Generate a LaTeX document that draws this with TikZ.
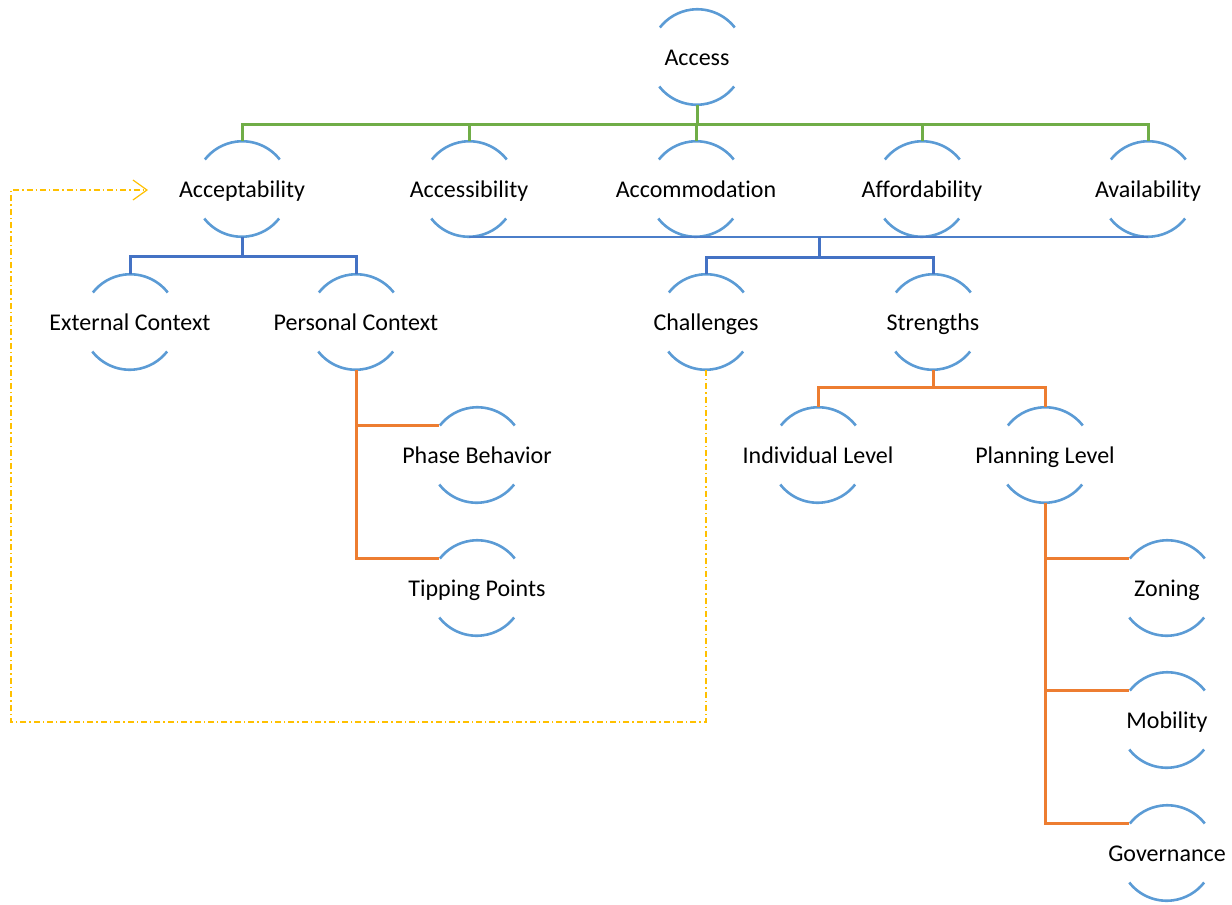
\documentclass[tikz,border=0pt]{standalone}
\usepackage{fontspec}
\setmainfont{Carlito}[Ligatures=NoCommon]
\usetikzlibrary{arrows.meta}

\definecolor{ringblue}{HTML}{5B9BD5}
\definecolor{barblue}{HTML}{4472C4}
\definecolor{bargreen}{HTML}{70AD47}
\definecolor{barorange}{HTML}{ED7D31}
\definecolor{loopyellow}{HTML}{FFC000}

\begin{document}
\begin{tikzpicture}[x=0.5pt, y=-0.5pt,
    topic/.style = {circle, minimum size=47.5pt, inner sep=0pt},
    every label/.style = {font=\fontsize{12}{14}\selectfont, inner sep=0pt,
      text height=10pt, text depth=2pt},
    halo/.style = {draw=ringblue, line width=1.3pt},
    greenbar/.style = {draw=bargreen, line width=1.5pt},
    bluebar/.style = {draw=barblue, line width=1.5pt},
    thinbar/.style = {draw=barblue!70!ringblue, line width=0.6pt},
    orangebar/.style = {draw=barorange, line width=1.5pt},
    loopback/.style = {draw=loopyellow, line width=0.6pt,
      dash pattern=on 3pt off 1.5pt on 0.7pt off 1.5pt,
      -{Straight Barb[length=7pt,width=10pt]}}]
  \useasboundingbox (0,0) rectangle (1232,905);

  % top level
  \node (access) [topic, label=center:Access] at (697,57) {};

  % the five A's
  \node (accept)   [topic, label=center:Acceptability] at (242,189) {};
  \node (accessib) [topic, label=center:Accessibility] at (469,189) {};
  \node (accom)    [topic, label=center:Accommodation] at (696,189) {};
  \node (afford)   [topic, label=center:Affordability] at (922,189) {};
  \node (avail)    [topic, label=center:Availability]  at (1148,189) {};

  % second level
  \node (ext)      [topic, label=center:External Context] at (130,322) {};
  \node (pers)     [topic, label=center:Personal Context] at (356,322) {};
  \node (chall)    [topic, label=center:Challenges]       at (706,322) {};
  \node (strength) [topic, label=center:Strengths]        at (933,322) {};

  % third level
  \node (phase)    [topic, label=center:Phase Behavior]   at (477,455) {};
  \node (tipping)  [topic, label=center:Tipping Points]   at (477,588) {};
  \node (indiv)    [topic, label=center:Individual Level] at (818,455) {};
  \node (planning) [topic, label=center:Planning Level]   at (1045,455) {};
  \node (zoning)   [topic, label=center:Zoning]           at (1167,588) {};
  \node (mobility) [topic, label=center:Mobility]         at (1167,720) {};
  \node (govern)   [topic, label=center:Governance]       at (1167,853) {};

  % half rings round every topic
  \foreach \n in {access,accept,accessib,accom,afford,avail,ext,pers,chall,
                  strength,phase,tipping,indiv,planning,zoning,mobility,govern} {
    \draw[halo] (\n.38) arc[start angle=38, end angle=142, radius=23.75pt];
    \draw[halo] (\n.218) arc[start angle=218, end angle=322, radius=23.75pt];
  }

  % connectors
  \foreach \c in {accept,accessib,accom,afford,avail}
    \draw[greenbar] (access.south) -- ++(0,20) -| (\c.north);
  \foreach \c in {ext,pers}
    \draw[bluebar] (accept.south) -- ++(0,20) -| (\c.north);
  \draw[thinbar] (accessib.south) -- (avail.south);
  \coordinate (fork) at (819.5,236.5);
  \foreach \c in {chall,strength}
    \draw[bluebar] (fork) -- ++(0,21) -| (\c.north);
  \foreach \c in {indiv,planning}
    \draw[orangebar] (strength.south) -- ++(0,18) -| (\c.north);
  \foreach \c in {phase,tipping}
    \draw[orangebar] (pers.south) |- (\c.142);
  \foreach \c in {zoning,mobility,govern}
    \draw[orangebar] (planning.south) |- (\c.142);

  % loop back to acceptability
  \coordinate (corner) at (11,722);
  \coordinate (tip) at (148,190);
  \draw[loopback] (chall.south) |- (corner) |- (tip);
\end{tikzpicture}
\end{document}
